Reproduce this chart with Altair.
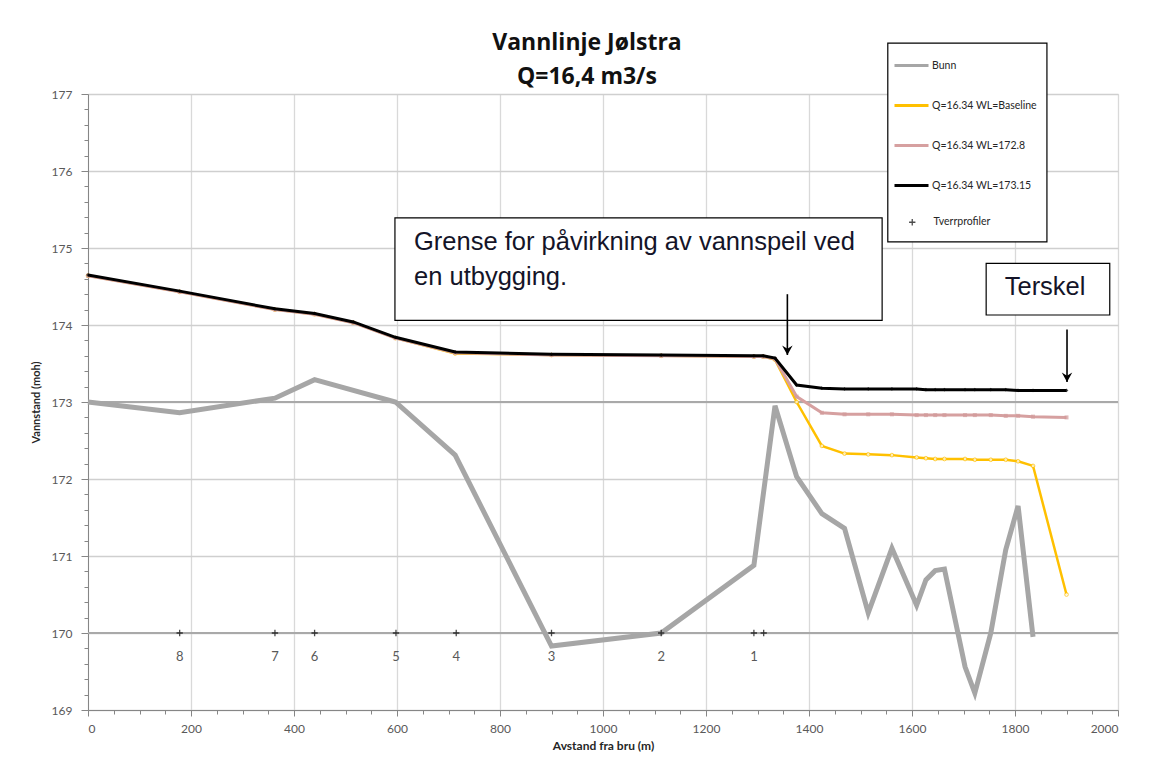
import altair as alt
import pandas as pd

# ---------------- data ----------------
SERIES = ["Bunn", "Q=16.34 WL=Baseline", "Q=16.34 WL=172.8", "Q=16.34 WL=173.15"]
COLORS = ["#a6a6a6", "#ffc000", "#d6a0a0", "#000000"]
PROFILE_NAME = "Tverrprofiler"

bunn_x = [0, 178, 363, 440, 597, 713, 900, 1113, 1293, 1334, 1376, 1425, 1469, 1515, 1561,
          1609, 1627, 1645, 1663, 1703, 1722, 1753, 1782, 1806, 1835]
bunn_y = [173.0, 172.86, 173.05, 173.29, 173.0, 172.31, 169.83, 170.0, 170.88, 172.95, 172.03,
          171.55, 171.36, 170.26, 171.10, 170.36, 170.69, 170.81, 170.83, 169.56, 169.22, 170.0,
          171.08, 171.65, 169.95]

wl_x = [0, 178, 363, 440, 515, 597, 713, 900, 1113, 1293, 1311, 1334, 1376, 1425, 1469, 1515,
        1561, 1609, 1627, 1645, 1663, 1703, 1722, 1753, 1782, 1806, 1835, 1900]
wl_base = [174.64, 174.43, 174.20, 174.14, 174.03, 173.83, 173.63, 173.61, 173.60, 173.59, 173.59,
           173.55, 173.00, 172.43, 172.33, 172.32, 172.31, 172.28, 172.27, 172.26, 172.26, 172.26,
           172.25, 172.25, 172.25, 172.23, 172.17, 170.50]
wl_1728 = [174.64, 174.43, 174.20, 174.14, 174.03, 173.83, 173.64, 173.61, 173.60, 173.59, 173.59,
           173.56, 173.07, 172.86, 172.84, 172.84, 172.84, 172.83, 172.83, 172.83, 172.83, 172.83,
           172.83, 172.83, 172.82, 172.82, 172.81, 172.80]
wl_17315 = [174.65, 174.44, 174.21, 174.15, 174.04, 173.84, 173.65, 173.62, 173.61, 173.60, 173.60,
            173.57, 173.22, 173.18, 173.17, 173.17, 173.17, 173.17, 173.16, 173.16, 173.16, 173.16,
            173.16, 173.16, 173.16, 173.15, 173.15, 173.15]

prof_x = [178, 363, 440, 598, 715, 900, 1113, 1293, 1312]
prof_y = [170, 170, 170, 170, 170, 170, 170, 170, 170]
prof_label = ["8", "7", "6", "5", "4", "3", "2", "1", ""]

# annotations (data units)
box_x = [596, 1744, 1553]
box_x2 = [1542, 1984, 1862]
box_y = [175.39, 174.80, 177.66]
box_y2 = [174.06, 174.13, 175.08]
note_text = ["Grense for påvirkning av vannspeil ved", "en utbygging.", "Terskel"]
note_x = [633, 633, 1780]
note_y = [174.97, 174.52, 174.39]
arrow_x = [1358, 1901]
arrow_top = [174.40, 173.94]
arrow_tip = [173.61, 173.26]
ref_lines = [170, 173]

# ---------------- tables ----------------
rows = []
for x, y in zip(bunn_x, bunn_y):
    rows.append({"x": x, "y": y, "series": SERIES[0]})
for name, ys in zip(SERIES[1:4], [wl_base, wl_1728, wl_17315]):
    for x, y in zip(wl_x, ys):
        rows.append({"x": x, "y": y, "series": name})
lines = pd.DataFrame(rows)
prof = pd.DataFrame({"x": prof_x, "y": prof_y, "label": prof_label, "series": PROFILE_NAME})
boxes = pd.DataFrame({"x": box_x, "x2": box_x2, "y": box_y, "y2": box_y2})
notes = pd.DataFrame({"x": note_x, "y": note_y, "text": note_text})
arrows = pd.DataFrame({"x": arrow_x, "top": arrow_top, "tip": arrow_tip})
refs = pd.DataFrame({"y": ref_lines})

FONT = "Lato"
LABEL_COL = "#595959"
PLUS = "M-1,0H1M0,-1V1"

xscale = alt.Scale(domain=[0, 2000], nice=False, zero=False)
yscale = alt.Scale(domain=[169, 177], nice=False, zero=False)
cscale = alt.Scale(domain=SERIES, range=COLORS)
sscale = alt.Scale(domain=[PROFILE_NAME], range=[PLUS])

legend = alt.Legend(
    title=None, orient="none", legendX=805, legendY=-47, padding=0,
    symbolType="stroke", symbolSize=1156, symbolStrokeWidth=3, rowPadding=15, labelOffset=2,
    labelFont=FONT, labelFontSize=10.5, labelColor="#262626", labelLimit=200,
)
shape_legend = alt.Legend(
    title=None, orient="none", legendX=819, legendY=123, padding=0,
    symbolSize=40, symbolStrokeWidth=1.3, symbolStrokeColor="#000000", symbolFillColor="#000000",
    labelOffset=16, labelFont=FONT, labelFontSize=10.5, labelColor="#262626",
)

x_main = alt.X("x:Q", scale=xscale, axis=alt.Axis(
    values=list(range(0, 2001, 200)), title="Avstand fra bru (m)", grid=True,
    gridColor="#d9d9d9", gridWidth=1.3, domainColor="#868686", tickColor="#868686",
    tickSize=6, labelPadding=7, labelFont=FONT, labelFontSize=12, labelColor=LABEL_COL,
    titleFont=FONT, titleFontSize=12, titleFontWeight="bold", titleColor="#262626",
    titlePadding=6, format="d"))
y_main = alt.Y("y:Q", scale=yscale, axis=alt.Axis(
    values=list(range(169, 178)), title="Vannstand (moh)", grid=True,
    gridColor="#cfcfcf", gridWidth=1.3, domainColor="#868686", tickColor="#868686",
    tickSize=7, labelPadding=9, labelFont=FONT, labelFontSize=12, labelColor=LABEL_COL,
    titleFont=FONT, titleFontSize=11, titleFontWeight="bold", titleColor="#262626",
    titlePadding=10, format="d"))

x_none = alt.X("x:Q", scale=xscale, axis=None)
y_none = alt.Y("y:Q", scale=yscale, axis=None)

# minor ticks layer
minor_x = [v for v in range(0, 2001, 50) if v % 200]
minor_y = [round(169 + i * 0.2, 1) for i in range(41) if i % 5]
minor = alt.Chart(pd.DataFrame({"x": [0], "y": [169]})).mark_point(opacity=0).encode(
    x=alt.X("x:Q", scale=xscale, axis=alt.Axis(values=minor_x, labels=False, title=None, grid=False,
                                              domain=False, tickSize=4, tickColor="#868686", orient="bottom")),
    y=alt.Y("y:Q", scale=yscale, axis=alt.Axis(values=minor_y, labels=False, title=None, grid=False,
                                              domain=False, tickSize=4, tickColor="#868686", orient="left")),
)

base_axes = alt.Chart(refs).mark_rule(color="#a9a9a9", strokeWidth=2).encode(
    y=y_main, x=alt.value(0), x2=alt.value(1030))
x_axis_layer = alt.Chart(pd.DataFrame({"x": [0], "y": [169]})).mark_point(opacity=0).encode(x=x_main, y=y_none)


def series_line(name, width):
    return alt.Chart(lines).transform_filter(alt.datum.series == name).mark_line(
        strokeWidth=width).encode(
        x=x_none, y=y_none, color=alt.Color("series:N", scale=cscale, legend=legend), order="x:Q")


bunn = series_line(SERIES[0], 5)
base_l = series_line(SERIES[1], 2.5)
base_p = alt.Chart(lines).transform_filter(alt.datum.series == SERIES[1]).mark_point(
    shape="circle", filled=True, fill="white", size=14, strokeWidth=1).encode(
    x=x_none, y=y_none, stroke=alt.value("#ffc000"))
p1728_l = series_line(SERIES[2], 3)
p1728_p = alt.Chart(lines).transform_filter(alt.datum.series == SERIES[2]).mark_point(
    shape="square", filled=True, size=16).encode(x=x_none, y=y_none, color=alt.value("#d29a9a"))
p17315_l = series_line(SERIES[3], 3)
p17315_p = alt.Chart(lines).transform_filter(alt.datum.series == SERIES[3]).mark_point(
    shape="diamond", filled=True, size=14).encode(x=x_none, y=y_none, color=alt.value("#000000"))

prof_pts = alt.Chart(prof).mark_point(size=40, strokeWidth=1.3, color="#000000").encode(
    x=x_none, y=y_none, shape=alt.Shape("series:N", scale=sscale, legend=shape_legend))
prof_txt = alt.Chart(prof).mark_text(dy=24, font=FONT, fontSize=13, color=LABEL_COL).encode(
    x=x_none, y=y_none, text="label:N")

box_marks = alt.Chart(boxes).mark_rect(fill="white", stroke="#000000", strokeWidth=1.2).encode(
    x=x_none, x2="x2:Q", y=y_none, y2="y2:Q")
note_marks = alt.Chart(notes).mark_text(align="left", baseline="alphabetic", font="Liberation Sans",
                                        fontSize=25.5, color="#141428").encode(x=x_none, y=y_none, text="text:N")
arrow_shaft = alt.Chart(arrows).mark_rule(color="black", strokeWidth=1.6).encode(
    x=x_none, y=alt.Y("top:Q", scale=yscale, axis=None), y2="tip:Q")
arrow_head = alt.Chart(arrows).mark_point(shape="M-1,-1.8L0,0L1,-1.8L0,-1.2Z", size=110, strokeWidth=1,
                                          color="black", filled=True, opacity=1).encode(
    x=x_none, y=alt.Y("tip:Q", scale=yscale, axis=None))

chart = alt.layer(
    base_axes, x_axis_layer, minor, bunn, base_l, base_p, p1728_l, p1728_p, p17315_l, p17315_p,
    prof_pts, prof_txt, box_marks, note_marks, arrow_shaft, arrow_head,
).resolve_axis(x="independent", y="independent").properties(
    width=1030, height=616,
    title=alt.Title(["Vannlinje Jølstra", "Q=16,4 m3/s"], font="Open Sans", fontSize=23, fontWeight="bold",
                    color="#111111", anchor="middle", frame="group", offset=6, lineHeight=34,
                    dx=-16, dy=52),
    autosize=alt.AutoSizeParams(type="none"),
    padding={"left": 80, "top": 86, "right": 27, "bottom": 45},
).configure_view(stroke="#868686", strokeWidth=1.3).configure(background="white")

chart.save("out.html", embed_options={"renderer": "svg", "actions": False})
